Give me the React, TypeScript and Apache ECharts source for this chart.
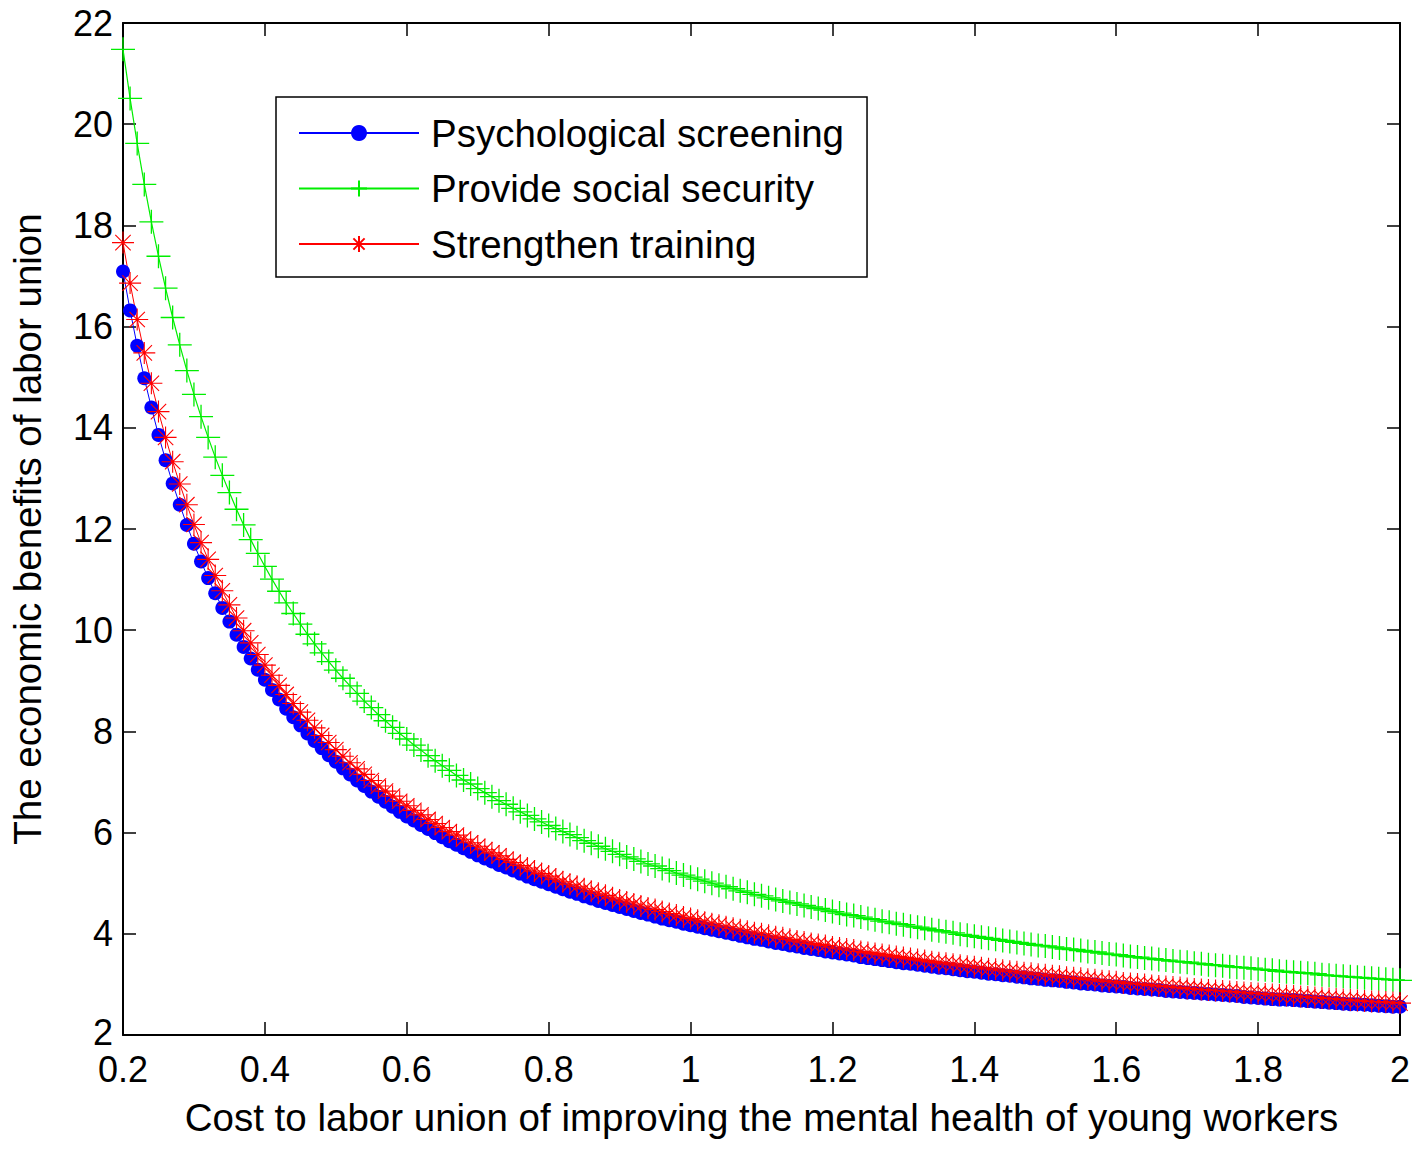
import React, { useEffect, useRef } from "react";
import * as echarts from "echarts";

const xValues = [
  0.2, 0.21, 0.22, 0.23, 0.24, 0.25, 0.26, 0.27, 0.28, 0.29,
  0.3, 0.31, 0.32, 0.33, 0.34, 0.35, 0.36, 0.37, 0.38, 0.39,
  0.4, 0.41, 0.42, 0.43, 0.44, 0.45, 0.46, 0.47, 0.48, 0.49,
  0.5, 0.51, 0.52, 0.53, 0.54, 0.55, 0.56, 0.57, 0.58, 0.59,
  0.6, 0.61, 0.62, 0.63, 0.64, 0.65, 0.66, 0.67, 0.68, 0.69,
  0.7, 0.71, 0.72, 0.73, 0.74, 0.75, 0.76, 0.77, 0.78, 0.79,
  0.8, 0.81, 0.82, 0.83, 0.84, 0.85, 0.86, 0.87, 0.88, 0.89,
  0.9, 0.91, 0.92, 0.93, 0.94, 0.95, 0.96, 0.97, 0.98, 0.99,
  1.0, 1.01, 1.02, 1.03, 1.04, 1.05, 1.06, 1.07, 1.08, 1.09,
  1.1, 1.11, 1.12, 1.13, 1.14, 1.15, 1.16, 1.17, 1.18, 1.19,
  1.2, 1.21, 1.22, 1.23, 1.24, 1.25, 1.26, 1.27, 1.28, 1.29,
  1.3, 1.31, 1.32, 1.33, 1.34, 1.35, 1.36, 1.37, 1.38, 1.39,
  1.4, 1.41, 1.42, 1.43, 1.44, 1.45, 1.46, 1.47, 1.48, 1.49,
  1.5, 1.51, 1.52, 1.53, 1.54, 1.55, 1.56, 1.57, 1.58, 1.59,
  1.6, 1.61, 1.62, 1.63, 1.64, 1.65, 1.66, 1.67, 1.68, 1.69,
  1.7, 1.71, 1.72, 1.73, 1.74, 1.75, 1.76, 1.77, 1.78, 1.79,
  1.8, 1.81, 1.82, 1.83, 1.84, 1.85, 1.86, 1.87, 1.88, 1.89,
  1.9, 1.91, 1.92, 1.93, 1.94, 1.95, 1.96, 1.97, 1.98, 1.99,
  2.0,
];

const psychologicalScreening = [
  17.09, 16.32, 15.62, 14.98, 14.4, 13.86, 13.36, 12.9, 12.48, 12.08,
  11.71, 11.36, 11.03, 10.73, 10.44, 10.17, 9.91, 9.67, 9.44, 9.22,
  9.02, 8.82, 8.63, 8.45, 8.28, 8.12, 7.96, 7.81, 7.67, 7.53,
  7.4, 7.27, 7.15, 7.03, 6.92, 6.81, 6.71, 6.61, 6.51, 6.41,
  6.32, 6.24, 6.15, 6.07, 5.99, 5.91, 5.83, 5.76, 5.69, 5.62,
  5.55, 5.49, 5.43, 5.36, 5.31, 5.25, 5.19, 5.13, 5.08, 5.03,
  4.98, 4.93, 4.88, 4.83, 4.79, 4.74, 4.7, 4.65, 4.61, 4.57,
  4.53, 4.49, 4.45, 4.41, 4.38, 4.34, 4.3, 4.27, 4.24, 4.2,
  4.17, 4.14, 4.11, 4.08, 4.05, 4.02, 3.99, 3.96, 3.93, 3.9,
  3.88, 3.85, 3.82, 3.8, 3.77, 3.75, 3.72, 3.7, 3.68, 3.65,
  3.63, 3.61, 3.59, 3.57, 3.54, 3.52, 3.5, 3.48, 3.46, 3.44,
  3.42, 3.41, 3.39, 3.37, 3.35, 3.33, 3.32, 3.3, 3.28, 3.26,
  3.25, 3.23, 3.21, 3.2, 3.18, 3.17, 3.15, 3.14, 3.12, 3.11,
  3.09, 3.08, 3.07, 3.05, 3.04, 3.02, 3.01, 3.0, 2.98, 2.97,
  2.96, 2.95, 2.93, 2.92, 2.91, 2.9, 2.89, 2.87, 2.86, 2.85,
  2.84, 2.83, 2.82, 2.81, 2.8, 2.79, 2.78, 2.77, 2.75, 2.74,
  2.73, 2.72, 2.71, 2.7, 2.7, 2.69, 2.68, 2.67, 2.66, 2.65,
  2.64, 2.63, 2.62, 2.61, 2.61, 2.6, 2.59, 2.58, 2.57, 2.56,
  2.56,
];

const provideSocialSecurity = [
  21.48, 20.51, 19.62, 18.81, 18.07, 17.39, 16.76, 16.18, 15.64, 15.13,
  14.66, 14.22, 13.81, 13.42, 13.06, 12.72, 12.39, 12.08, 11.79, 11.52,
  11.26, 11.01, 10.77, 10.54, 10.33, 10.12, 9.92, 9.73, 9.55, 9.38,
  9.21, 9.05, 8.9, 8.75, 8.6, 8.47, 8.33, 8.21, 8.08, 7.96,
  7.85, 7.73, 7.63, 7.52, 7.42, 7.32, 7.23, 7.13, 7.04, 6.96,
  6.87, 6.79, 6.71, 6.63, 6.56, 6.48, 6.41, 6.34, 6.27, 6.21,
  6.14, 6.08, 6.02, 5.96, 5.9, 5.84, 5.79, 5.73, 5.68, 5.63,
  5.57, 5.52, 5.48, 5.43, 5.38, 5.34, 5.29, 5.25, 5.2, 5.16,
  5.12, 5.08, 5.04, 5.0, 4.96, 4.93, 4.89, 4.85, 4.82, 4.78,
  4.75, 4.71, 4.68, 4.65, 4.62, 4.59, 4.56, 4.53, 4.5, 4.47,
  4.44, 4.41, 4.38, 4.36, 4.33, 4.3, 4.28, 4.25, 4.23, 4.2,
  4.18, 4.15, 4.13, 4.11, 4.08, 4.06, 4.04, 4.02, 3.99, 3.97,
  3.95, 3.93, 3.91, 3.89, 3.87, 3.85, 3.83, 3.81, 3.79, 3.77,
  3.76, 3.74, 3.72, 3.7, 3.69, 3.67, 3.65, 3.64, 3.62, 3.6,
  3.59, 3.57, 3.55, 3.54, 3.52, 3.51, 3.49, 3.48, 3.46, 3.45,
  3.44, 3.42, 3.41, 3.39, 3.38, 3.37, 3.35, 3.34, 3.33, 3.32,
  3.3, 3.29, 3.28, 3.26, 3.25, 3.24, 3.23, 3.22, 3.21, 3.19,
  3.18, 3.17, 3.16, 3.15, 3.14, 3.13, 3.12, 3.11, 3.1, 3.09,
  3.08,
];

const strengthenTraining = [
  17.66, 16.86, 16.14, 15.48, 14.88, 14.32, 13.81, 13.33, 12.89, 12.48,
  12.09, 11.73, 11.4, 11.08, 10.78, 10.5, 10.24, 9.99, 9.75, 9.52,
  9.31, 9.11, 8.91, 8.73, 8.55, 8.38, 8.22, 8.07, 7.92, 7.78,
  7.64, 7.51, 7.38, 7.26, 7.15, 7.03, 6.92, 6.82, 6.72, 6.62,
  6.53, 6.44, 6.35, 6.26, 6.18, 6.1, 6.02, 5.95, 5.87, 5.8,
  5.73, 5.66, 5.6, 5.54, 5.47, 5.41, 5.35, 5.3, 5.24, 5.19,
  5.14, 5.08, 5.03, 4.98, 4.94, 4.89, 4.84, 4.8, 4.76, 4.71,
  4.67, 4.63, 4.59, 4.55, 4.51, 4.48, 4.44, 4.4, 4.37, 4.33,
  4.3, 4.27, 4.23, 4.2, 4.17, 4.14, 4.11, 4.08, 4.05, 4.02,
  4.0, 3.97, 3.94, 3.92, 3.89, 3.86, 3.84, 3.81, 3.79, 3.77,
  3.74, 3.72, 3.7, 3.68, 3.65, 3.63, 3.61, 3.59, 3.57, 3.55,
  3.53, 3.51, 3.49, 3.47, 3.45, 3.43, 3.42, 3.4, 3.38, 3.36,
  3.35, 3.33, 3.31, 3.3, 3.28, 3.26, 3.25, 3.23, 3.22, 3.2,
  3.19, 3.17, 3.16, 3.14, 3.13, 3.12, 3.1, 3.09, 3.07, 3.06,
  3.05, 3.03, 3.02, 3.01, 3.0, 2.98, 2.97, 2.96, 2.95, 2.94,
  2.92, 2.91, 2.9, 2.89, 2.88, 2.87, 2.86, 2.85, 2.84, 2.83,
  2.82, 2.81, 2.8, 2.79, 2.78, 2.77, 2.76, 2.75, 2.74, 2.73,
  2.72, 2.71, 2.7, 2.69, 2.68, 2.67, 2.66, 2.66, 2.65, 2.64,
  2.63,
];

const seriesNames = [
  "Psychological screening",
  "Provide social security",
  "Strengthen training",
];

const xAxisTitle =
  "Cost to labor union of improving the mental health of young workers";
const yAxisTitle = "The economic benefits of labor union";

const FONT = "'Liberation Sans', Arial, Helvetica, sans-serif";
const PLUS = "path://M10,0L10,20M0,10L20,10";
const STAR = "path://M10,0L10,20M0,10L20,10M3,3L17,17M17,3L3,17";

const pairs = (ys: number[]) => xValues.map((x, i) => [x, ys[i]]);

export default function App() {
  const ref = useRef<HTMLDivElement>(null);

  useEffect(() => {
    if (!ref.current) return;
    const chart = echarts.init(ref.current, undefined, { renderer: "svg" });

    const axisLine = { show: true, lineStyle: { color: "#000", width: 2 } };
    const tick = {
      show: true,
      inside: true,
      length: 13,
      lineStyle: { color: "#000", width: 1.5 },
    };
    const tickLabel = {
      color: "#000",
      fontSize: 36,
      fontFamily: FONT,
      lineHeight: 30,
    };
    const titleStyle = { color: "#000", fontSize: 38.5, fontFamily: FONT };

    chart.setOption({
      animation: false,
      backgroundColor: "#fff",
      grid: { left: 117, top: 23, width: 1283, height: 1012, containLabel: false },
      legend: {
        orient: "vertical",
        left: 276,
        top: 97,
        backgroundColor: "#fff",
        borderColor: "#000",
        borderWidth: 1.5,
        borderRadius: 0,
        padding: [16, 23, 13, 22],
        itemWidth: 120,
        itemHeight: 20,
        itemGap: 15.5,
        selectedMode: false,
        textStyle: {
          ...titleStyle,
          lineHeight: 40,
          padding: [0, 0, 0, 7],
        },
        data: seriesNames,
      },
      xAxis: [
        {
          type: "value",
          min: 0.2,
          max: 2,
          interval: 0.2,
          position: "bottom",
          axisLine,
          axisTick: tick,
          splitLine: { show: false },
          axisLabel: { ...tickLabel, margin: 19 },
          name: xAxisTitle,
          nameLocation: "middle",
          nameGap: 63,
          nameTextStyle: { ...titleStyle },
        },
        {
          type: "value",
          min: 0.2,
          max: 2,
          interval: 0.2,
          position: "top",
          axisLine,
          axisTick: tick,
          splitLine: { show: false },
          axisLabel: { show: false },
        },
      ],
      yAxis: [
        {
          type: "value",
          min: 2,
          max: 22,
          interval: 2,
          position: "left",
          axisLine,
          axisTick: tick,
          splitLine: { show: false },
          axisLabel: {
            ...tickLabel,
            margin: 10,
            formatter: (v: number) => (v === 2 ? "{lo|2}" : String(v)),
            rich: {
              lo: {
                color: "#000",
                fontSize: 36,
                fontFamily: FONT,
                lineHeight: 30,
                padding: [0, 0, 6, 0],
              },
            },
          },
          name: yAxisTitle,
          nameLocation: "middle",
          nameGap: 76,
          nameTextStyle: { ...titleStyle },
        },
        {
          type: "value",
          min: 2,
          max: 22,
          interval: 2,
          position: "right",
          axisLine,
          axisTick: tick,
          splitLine: { show: false },
          axisLabel: { show: false },
        },
      ],
      series: [
        {
          name: seriesNames[0],
          type: "line",
          data: pairs(psychologicalScreening),
          symbol: "circle",
          symbolSize: 14,
          showAllSymbol: true,
          lineStyle: { color: "#0000ff", width: 1 },
          itemStyle: { color: "#0000ff", borderColor: "#0000ff", borderWidth: 0 },
        },
        {
          name: seriesNames[1],
          type: "line",
          data: pairs(provideSocialSecurity),
          symbol: PLUS,
          symbolSize: 24,
          showAllSymbol: true,
          lineStyle: { color: "#00ee00", width: 1.2 },
          itemStyle: { color: "none", borderColor: "#00ee00", borderWidth: 1.3 },
        },
        {
          name: seriesNames[2],
          type: "line",
          data: pairs(strengthenTraining),
          symbol: STAR,
          symbolSize: 22,
          showAllSymbol: true,
          lineStyle: { color: "#ff0000", width: 1 },
          itemStyle: { color: "none", borderColor: "#ff0000", borderWidth: 1.1 },
        },
      ],
    });

    return () => chart.dispose();
  }, []);

  return (
    <div
      ref={ref}
      style={{ position: "absolute", left: 0, top: 0, width: 1417, height: 1150 }}
    />
  );
}
